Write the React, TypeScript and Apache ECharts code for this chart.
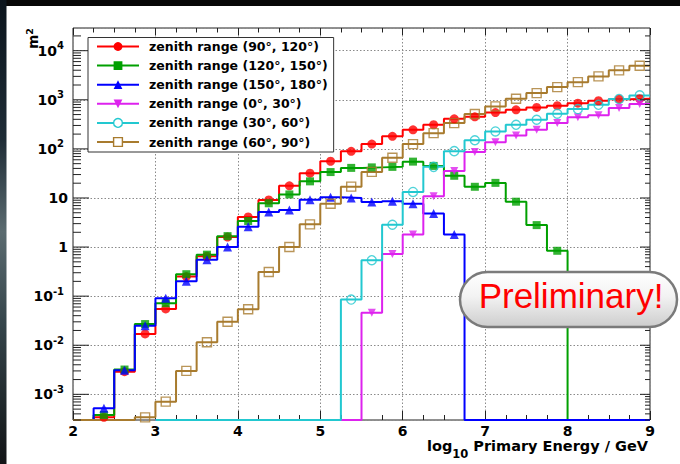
import { useEffect, useRef } from 'react';
import * as echarts from 'echarts';

// Bin edges in log10(E / GeV)
const binEdges = [
  2.0, 2.25, 2.5, 2.75, 3.0, 3.25, 3.5, 3.75, 4.0, 4.25, 4.5, 4.75, 5.0, 5.25, 5.5,
  5.75, 6.0, 6.25, 6.5, 6.75, 7.0, 7.25, 7.5, 7.75, 8.0, 8.25, 8.5, 8.75, 9.0,
];

// Effective area per bin in m^2 (0 = empty bin, null = outside the histogram range)
const zenith90to120 = [
  0, 3.4e-4, 2.9e-3, 0.017, 0.055, 0.25, 0.65, 1.6, 4.1, 9.1, 17.7, 32, 56, 89,
  125, 180, 245, 310, 410, 450, 550, 625, 700, 760, 855, 955, 1030, 1055,
];
const zenith120to150 = [
  0, 3.8e-4, 3.2e-3, 0.027, 0.072, 0.28, 0.7, 1.67, 3.4, 7.8, 11.8, 21.8, 33.7, 41,
  42, 43, 55, 45, 28.3, 16.9, 20.3, 8.4, 2.8, 0.84, 0, 0, 0, 0,
];
const zenith150to180 = [
  0, 5.2e-4, 3.1e-3, 0.025, 0.091, 0.2, 0.55, 1.0, 2.6, 5.2, 5.7, 9.2, 10.3, 10.0,
  8.3, 8.6, 7.6, 4.8, 1.8, 0, 0, 0, 0, 0, 0, 0, 0, 0,
];
const zenith0to30 = [
  null, null, null, null, 0, 0, 0, 0, 0, 0, 0, 0, 0, 0,
  0.046, 0.72, 1.8, 10.9, 35.5, 86, 136, 188, 245, 335, 440, 485, 677, 816,
];
const zenith30to60 = [
  null, null, null, null, 0, 0, 0, 0, 0, 0, 0, 0, 0, 0.085,
  0.54, 2.85, 13.3, 43, 90, 150, 227, 309, 392, 519, 646, 791, 1040, 1230,
];
const zenith60to90 = [
  0, 0, 0, 3.4e-4, 7.1e-4, 3.0e-3, 0.0115, 0.03, 0.054, 0.31, 1.0, 2.9, 7.6, 17,
  34, 66, 125, 209, 335, 512, 733, 1047, 1368, 1814, 2290, 2995, 3980, 4920,
];

const seriesNames = [
  'zenith range (90°, 120°)',
  'zenith range (120°, 150°)',
  'zenith range (150°, 180°)',
  'zenith range (0°, 30°)',
  'zenith range (30°, 60°)',
  'zenith range (60°, 90°)',
];
const histograms = [zenith90to120, zenith120to150, zenith150to180, zenith0to30, zenith30to60, zenith60to90];

// Axis ranges
const X_MIN = 2;
const X_MAX = 9;
const Y_MIN = 3.0e-4;
const Y_MAX = 2.9e4;

const FONT = 'DejaVu Sans';

const histStyles = [
  { color: '#ff0000', symbol: 'circle', size: 9, open: false },
  { color: '#00a000', symbol: 'rect', size: 8, open: false },
  { color: '#0000ff', symbol: 'triangle', size: 9, open: false },
  { color: '#dd22ee', symbol: 'path://M0,0L10,0L5,9Z', size: 8, open: false },
  { color: '#22c8d0', symbol: 'circle', size: 9, open: true },
  { color: '#a87b2e', symbol: 'rect', size: 9, open: true },
];

// Histogram outline: flat top over each bin, empty bins sit on the frame floor
function stepPoints(values: (number | null)[]) {
  const pts: number[][] = [];
  values.forEach((v, i) => {
    if (v === null) return;
    const y = v > 0 ? v : Y_MIN;
    pts.push([binEdges[i], y], [binEdges[i + 1], y]);
  });
  return pts;
}

function markerPoints(values: (number | null)[]) {
  const pts: number[][] = [];
  values.forEach((v, i) => {
    if (v === null || v <= 0) return;
    pts.push([(binEdges[i] + binEdges[i + 1]) / 2, v]);
  });
  return pts;
}

// Major (decade) and minor (2..9 x decade) ticks of the log axis
function logTicks() {
  const ticks: number[][] = [];
  for (let e = -4; e <= 4; e++) {
    for (let k = 1; k <= 9; k++) {
      const v = k * Math.pow(10, e);
      if (v >= Y_MIN && v <= Y_MAX) ticks.push([X_MIN, v, k === 1 ? 1 : 0]);
    }
  }
  return ticks;
}

export default function App() {
  const ref = useRef<HTMLDivElement>(null);

  useEffect(() => {
    if (!ref.current) return;
    const chart = echarts.init(ref.current, undefined, { renderer: 'svg' });

    const series: any[] = [];
    histograms.forEach((vals, k) => {
      const st = histStyles[k];
      const itemStyle = st.open
        ? { color: 'rgba(255,255,255,0)', borderColor: st.color, borderWidth: 1.4 }
        : { color: st.color, borderWidth: 0 };
      series.push({
        type: 'line',
        name: seriesNames[k],
        data: stepPoints(vals),
        showSymbol: false,
        symbol: st.symbol,
        symbolSize: st.size,
        lineStyle: { color: st.color, width: 2 },
        itemStyle,
        silent: true,
        z: 2,
        emphasis: { disabled: true },
      });
      series.push({
        type: 'scatter',
        name: seriesNames[k],
        data: markerPoints(vals),
        symbol: st.symbol,
        symbolSize: st.size,
        itemStyle,
        silent: true,
        z: 2,
        emphasis: { disabled: true },
      });
    });

    series.push({
      type: 'custom',
      data: logTicks(),
      silent: true,
      clip: false,
      z: 4,
      renderItem: (params: any, api: any) => {
        const v = api.value(1);
        const major = api.value(2) === 1;
        const p = api.coord([X_MIN, v]);
        const cs = params.coordSys;
        const lenL = major ? 16 : 8;
        const lenR = major ? 10 : 5;
        const stroke = { stroke: '#222', lineWidth: 1 };
        return {
          type: 'group',
          children: [
            { type: 'line', shape: { x1: cs.x, y1: p[1], x2: cs.x + lenL, y2: p[1] }, style: stroke },
            {
              type: 'line',
              shape: { x1: cs.x + cs.width - lenR, y1: p[1], x2: cs.x + cs.width, y2: p[1] },
              style: stroke,
            },
          ],
        };
      },
    });

    const gridLine = { color: '#8a8a8a', width: 1, type: [1.5, 2] };
    const tickColor = { color: '#222', width: 1 };

    chart.setOption({
      animation: false,
      backgroundColor: '#ffffff',
      grid: {
        left: 73,
        top: 28,
        width: 577,
        height: 392,
        show: true,
        borderColor: '#222',
        borderWidth: 1,
        backgroundColor: '#fff',
        outerBoundsMode: 'none',
        containLabel: false,
      },
      xAxis: [
        {
          type: 'value',
          min: X_MIN,
          max: X_MAX,
          interval: 1,
          position: 'bottom',
          axisLine: { show: false },
          axisTick: { show: true, inside: true, length: 9, lineStyle: tickColor },
          minorTick: { show: true, splitNumber: 4, length: 5, lineStyle: tickColor },
          axisLabel: {
            margin: 4,
            fontFamily: FONT,
            fontWeight: 'bold',
            fontSize: 14,
            lineHeight: 14,
            color: '#000',
          },
          splitLine: { show: true, lineStyle: gridLine },
        },
        {
          type: 'value',
          min: X_MIN,
          max: X_MAX,
          interval: 1,
          position: 'top',
          axisLine: { show: false },
          axisTick: { show: true, inside: true, length: 7, lineStyle: tickColor },
          minorTick: { show: true, splitNumber: 4, length: 4.5, lineStyle: tickColor },
          axisLabel: { show: false },
          splitLine: { show: false },
        },
      ],
      yAxis: {
        type: 'log',
        logBase: 10,
        min: Y_MIN,
        max: Y_MAX,
        axisLine: { show: false },
        axisTick: { show: false },
        minorTick: { show: false },
        splitLine: { show: true, lineStyle: gridLine },
        axisLabel: {
          margin: 5,
          fontFamily: FONT,
          fontWeight: 'bold',
          fontSize: 14,
          color: '#000',
          formatter: (val: number) => {
            const e = Math.log10(val);
            const r = Math.round(e);
            if (Math.abs(e - r) > 1e-6) return '';
            if (r === 0) return '1';
            if (r === 1) return '10';
            return `{b|10}{s|${r}}`;
          },
          rich: {
            b: { fontFamily: FONT, fontWeight: 'bold', fontSize: 14, lineHeight: 20, color: '#000' },
            s: {
              fontFamily: FONT,
              fontWeight: 'bold',
              fontSize: 10,
              lineHeight: 9,
              verticalAlign: 'top',
              color: '#000',
              padding: [0, 4, 0, 0],
            },
          },
        },
      },
      legend: {
        orient: 'vertical',
        left: 88,
        top: 37.5,
        padding: [2, 6, 3, 8],
        itemGap: 5.1,
        itemWidth: 42,
        itemHeight: 11,
        backgroundColor: '#fff',
        borderColor: '#333',
        borderWidth: 1,
        borderRadius: 0,
        selectedMode: false,
        z: 10,
        textStyle: {
          fontFamily: FONT,
          fontWeight: 'bold',
          fontSize: 12.5,
          lineHeight: 14,
          color: '#000',
          padding: [0, 0, 0, 5],
        },
        data: seriesNames.map((name, k) => {
          const st = histStyles[k];
          return {
            name,
            itemStyle: st.open
              ? { color: '#fff', borderColor: st.color, borderWidth: 1.4 }
              : { color: st.color, borderColor: st.color, borderWidth: 0 },
            lineStyle: { color: st.color, width: 2 },
          };
        }),
      },
      graphic: [
        {
          type: 'rect',
          silent: true,
          z: 0,
          shape: { x: 0, y: 0, width: 680, height: 6 },
          style: { fill: '#070707' },
        },
        {
          type: 'rect',
          silent: true,
          z: 0,
          shape: { x: 0, y: 0, width: 6.5, height: 464 },
          style: {
            fill: new echarts.graphic.LinearGradient(0, 0, 0, 1, [
              { offset: 0, color: '#0b141c' },
              { offset: 0.3, color: '#1e2c36' },
              { offset: 0.5, color: '#5b6b70' },
              { offset: 0.7, color: '#34444a' },
              { offset: 1, color: '#121416' },
            ]),
          },
        },
        {
          type: 'text',
          silent: true,
          z: 20,
          x: 32.5,
          y: 28,
          rotation: Math.PI / 2,
          style: {
            text: 'm{s|2}',
            fontFamily: FONT,
            fontWeight: 'bold',
            fontSize: 13.5,
            lineHeight: 16,
            fill: '#000',
            align: 'right',
            verticalAlign: 'middle',
            rich: {
              s: { fontFamily: FONT, fontWeight: 'bold', fontSize: 9.5, lineHeight: 8, verticalAlign: 'top', fill: '#000' },
            },
          },
        },
        {
          type: 'text',
          silent: true,
          z: 20,
          x: 648,
          y: 445.5,
          style: {
            text: 'log{s|10} Primary Energy / GeV',
            fontFamily: FONT,
            fontWeight: 'bold',
            fontSize: 14.5,
            lineHeight: 15,
            fill: '#000',
            align: 'right',
            verticalAlign: 'middle',
            rich: {
              s: {
                fontFamily: FONT,
                fontWeight: 'bold',
                fontSize: 11.5,
                lineHeight: 12,
                padding: [10, 0, 0, 0],
                verticalAlign: 'top',
                fill: '#000',
              },
            },
          },
        },
        {
          type: 'group',
          silent: true,
          z: 100,
          children: [
            {
              type: 'rect',
              z: 100,
              shape: { x: 460, y: 272, width: 217, height: 55, r: 27.5 },
              style: {
                fill: new echarts.graphic.LinearGradient(0, 0, 0, 1, [
                  { offset: 0, color: '#ffffff' },
                  { offset: 0.45, color: '#f2f2f2' },
                  { offset: 1, color: '#cdcdcd' },
                ]),
                stroke: '#7a7a7a',
                lineWidth: 2.5,
              },
            },
            {
              type: 'text',
              z: 101,
              x: 571,
              y: 295,
              style: {
                text: 'Preliminary!',
                fontFamily: 'Liberation Sans',
                fontSize: 35,
                fill: '#ff0000',
                align: 'center',
                verticalAlign: 'middle',
              },
            },
          ],
        },
      ],
      series,
    });

    return () => chart.dispose();
  }, []);

  return (
    <div
      ref={ref}
      style={{ position: 'fixed', left: 0, top: 0, width: 680, height: 464, background: '#fff' }}
    />
  );
}
